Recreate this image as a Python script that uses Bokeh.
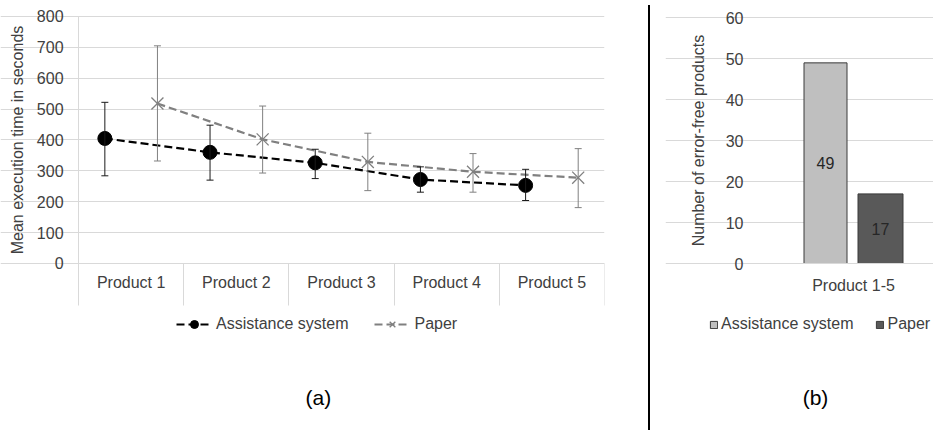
from bokeh.plotting import figure
from bokeh.models import (ColumnDataSource, Whisker, TeeHead, FixedTicker, Legend,
                          LegendItem, Label, Range1d, Div, LinearAxis)
from bokeh.layouts import row
from bokeh.core.properties import value
from bokeh.embed import file_html
from bokeh.resources import INLINE

# ---------------- data ----------------
products = ["Product 1", "Product 2", "Product 3", "Product 4", "Product 5"]
assist_mean = [405, 360, 326, 272, 253]
assist_hi = [522, 448, 370, 313, 305]
assist_lo = [284, 270, 275, 231, 204]
paper_mean = [518, 402, 329, 297, 278]
paper_hi = [705, 510, 422, 356, 372]
paper_lo = [332, 293, 236, 231, 181]
y_ticks_a = [0, 100, 200, 300, 400, 500, 600, 700, 800]

bar_category = ["Product 1-5"]
bar_assist = [49]
bar_paper = [17]
y_ticks_b = [0, 10, 20, 30, 40, 50, 60]

FONT = "Liberation Sans"
TXT = "#404040"
GRID = "#d9d9d9"


def style_text_axis(ax, size="16px"):
    ax.major_label_text_font = FONT
    ax.major_label_text_font_size = size
    ax.major_label_text_color = TXT
    ax.axis_label_text_font = FONT
    ax.axis_label_text_font_style = "normal"
    ax.axis_label_text_font_size = size
    ax.axis_label_text_color = TXT
    ax.minor_tick_line_color = None


# ---------------- chart (a) ----------------
n = len(products)
centers = [i + 0.5 for i in range(n)]
bounds = [i for i in range(n + 1)]
xa = [i + 0.25 for i in range(n)]
xp = [i + 0.75 for i in range(n)]

src_a = ColumnDataSource(dict(x=xa, y=assist_mean, hi=assist_hi, lo=assist_lo))
src_p = ColumnDataSource(dict(x=xp, y=paper_mean, hi=paper_hi, lo=paper_lo))

p = figure(width=643, height=425, x_range=Range1d(-0.742, n),
           y_range=Range1d(-524.7, 851.8),
           output_backend="svg", toolbar_location=None,
           x_axis_location=None, y_axis_location=None,
           min_border_left=0, min_border_right=39, min_border_top=0, min_border_bottom=0)
p.outline_line_color = None
p.xgrid.visible = False
p.ygrid.grid_line_color = GRID
p.ygrid.ticker = FixedTicker(ticks=y_ticks_a)
p.ygrid.bounds = (0, n)

ya = LinearAxis(fixed_location=0, ticker=FixedTicker(ticks=y_ticks_a))
ya.bounds = (y_ticks_a[0], y_ticks_a[-1])
ya.axis_line_color = GRID
ya.major_tick_line_color = None
ya.major_tick_out = 0
ya.major_tick_in = 0
ya.major_label_standoff = 15
ya.axis_label = "Mean execution time in seconds"
ya.axis_label_standoff = 8
style_text_axis(ya)
p.add_layout(ya, "left")

# category dividers (long ticks between categories)
x_div = LinearAxis(fixed_location=0, ticker=FixedTicker(ticks=bounds))
x_div.bounds = (0, n)
x_div.major_label_overrides = {b: "" for b in bounds}
x_div.axis_line_color = GRID
x_div.major_tick_line_color = GRID
x_div.major_tick_in = 0
x_div.major_tick_out = 42
x_div.minor_tick_line_color = None
p.add_layout(x_div, "below")

# category labels
x_lab = LinearAxis(fixed_location=0, ticker=FixedTicker(ticks=centers))
x_lab.major_label_overrides = {c: lab for c, lab in zip(centers, products)}
x_lab.axis_line_color = None
x_lab.major_tick_line_color = None
x_lab.major_tick_in = 0
x_lab.major_tick_out = 0
x_lab.major_label_standoff = 11
style_text_axis(x_lab)
p.add_layout(x_lab, "below")

wa = Whisker(base="x", upper="hi", lower="lo", source=src_a, line_color="#1a1a1a", line_width=1,
             upper_head=TeeHead(size=7, line_color="#1a1a1a", line_width=1),
             lower_head=TeeHead(size=7, line_color="#1a1a1a", line_width=1), level="glyph")
wp = Whisker(base="x", upper="hi", lower="lo", source=src_p, line_color="#808080", line_width=1,
             upper_head=TeeHead(size=7, line_color="#808080", line_width=1),
             lower_head=TeeHead(size=7, line_color="#808080", line_width=1), level="glyph")
p.add_layout(wa)
p.add_layout(wp)

la = p.line("x", "y", source=src_a, line_color="#000000", line_width=2.2, line_dash="8 4")
lp = p.line("x", "y", source=src_p, line_color="#808080", line_width=2.2, line_dash="8 4")
sa = p.scatter("x", "y", source=src_a, marker="circle", size=14, fill_color="#000000",
               line_color="#000000")
sp = p.scatter("x", "y", source=src_p, marker="x", size=17, line_color="#808080", line_width=1.3)

leg_a = Legend(items=[LegendItem(label="Assistance system", renderers=[la, sa]),
                      LegendItem(label="Paper", renderers=[lp, sp])],
               location=(176, 91), orientation="horizontal", padding=0, margin=0,
               spacing=26, glyph_width=36, glyph_height=20, label_height=16,
               label_standoff=4, border_line_color=None, background_fill_alpha=0,
               label_text_font=FONT, label_text_font_size="16px", label_text_color=TXT)
p.add_layout(leg_a)

p.add_layout(Label(x=2.28, y=-434, text="(a)",
                   text_font=FONT, text_font_size="21px", text_color="#000000",
                   text_align="center", text_baseline="middle"))

# ---------------- separator ----------------
sep = Div(text="", width=12, height=425,
          styles={"border-left": "2px solid #000000", "height": "425px"})

# ---------------- chart (b) ----------------
axis_x_b = -0.97   # where the value axis sits
q = figure(width=268, height=425, x_range=Range1d(-1.88, 0.80), y_range=Range1d(-39.56, 64.23),
           output_backend="svg", toolbar_location=None,
           x_axis_location=None, y_axis_location=None,
           min_border_left=0, min_border_right=0, min_border_top=0, min_border_bottom=0)
q.outline_line_color = None
q.xgrid.visible = False
q.ygrid.grid_line_color = GRID
q.ygrid.ticker = FixedTicker(ticks=y_ticks_b)
q.ygrid.bounds = (axis_x_b, 0.80)

yb = LinearAxis(fixed_location=axis_x_b, ticker=FixedTicker(ticks=y_ticks_b))
yb.bounds = (y_ticks_b[0], y_ticks_b[-1])
yb.axis_line_color = None
yb.major_tick_line_color = None
yb.major_tick_out = 0
yb.major_tick_in = 0
yb.major_label_standoff = 13
yb.axis_label = "Number of error-free products"
yb.axis_label_standoff = 16
style_text_axis(yb)
q.add_layout(yb, "left")

xb = LinearAxis(fixed_location=0, ticker=FixedTicker(ticks=[0]))
xb.bounds = (axis_x_b, 0.80)
xb.major_label_overrides = {0: bar_category[0]}
xb.axis_line_color = GRID
xb.major_tick_line_color = None
xb.major_tick_out = 0
xb.major_tick_in = 0
xb.major_label_standoff = 13
style_text_axis(xb)
q.add_layout(xb, "below")

src_b1 = ColumnDataSource(dict(x=[-0.28], top=bar_assist, mid=[v / 2 for v in bar_assist],
                               lab=[str(v) for v in bar_assist]))
src_b2 = ColumnDataSource(dict(x=[0.27], top=bar_paper, mid=[v / 2 for v in bar_paper],
                               lab=[str(v) for v in bar_paper]))
b1 = q.vbar(x="x", top="top", width=0.43, source=src_b1, fill_color="#bfbfbf",
            line_color="#3a3a3a", line_width=1)
b2 = q.vbar(x="x", top="top", width=0.45, source=src_b2, fill_color="#595959",
            line_color="#3a3a3a", line_width=1)
for s in (src_b1, src_b2):
    q.text(x="x", y="mid", text="lab", source=s, text_font=value(FONT),
           text_font_size="16px", text_color="#262626", text_align="center",
           text_baseline="middle")

leg_b = Legend(items=[LegendItem(label="Assistance system", renderers=[b1]),
                      LegendItem(label="Paper", renderers=[b2])],
               location=(44, 92), orientation="horizontal", padding=0, margin=0,
               spacing=22, glyph_width=9, glyph_height=9, label_height=16,
               label_standoff=3, border_line_color=None, background_fill_alpha=0,
               label_text_font=FONT, label_text_font_size="16px", label_text_color=TXT)
q.add_layout(leg_b)

q.add_layout(Label(x=-0.38, y=-32.7, text="(b)",
                   text_font=FONT, text_font_size="21px", text_color="#000000",
                   text_align="center", text_baseline="middle"))

layout = row(p, sep, q)
open("out.html", "w").write(file_html(layout, INLINE))
